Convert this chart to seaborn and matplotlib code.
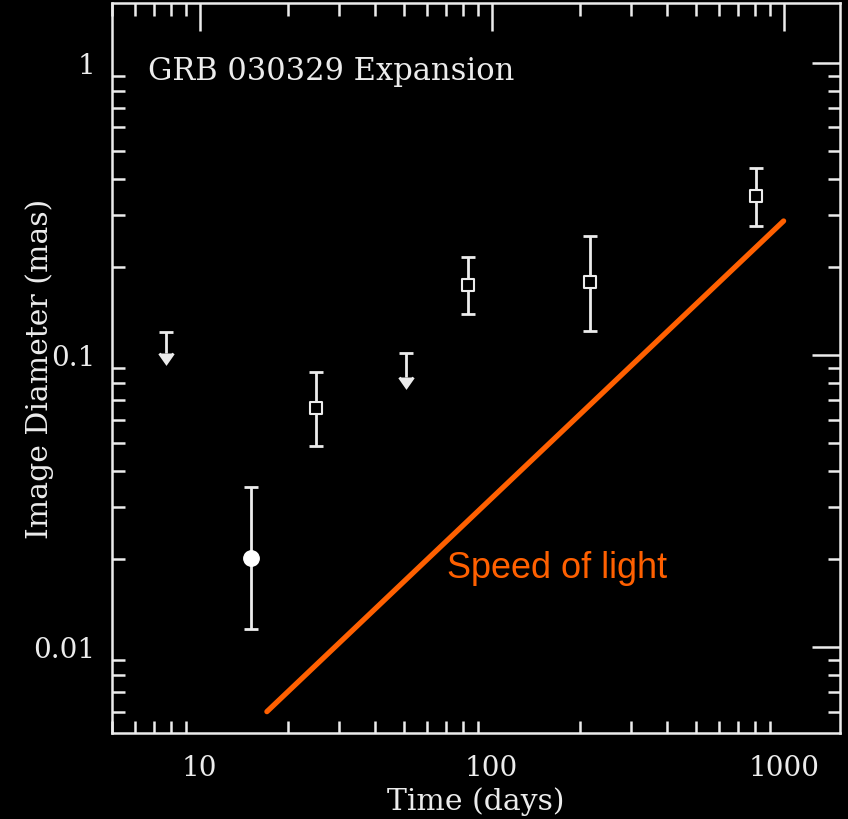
import matplotlib
matplotlib.use("Agg")
import matplotlib.pyplot as plt
import seaborn as sns
import pandas as pd
import numpy as np

# Measured image diameters (days since burst, mas, asymmetric errors)
meas_days = [15.0, 25.0, 83.0, 217.0, 806.0]
meas_size = [0.0201, 0.0656, 0.173, 0.177, 0.350]
meas_lo = [0.0115, 0.0486, 0.138, 0.121, 0.276]
meas_hi = [0.0352, 0.0871, 0.216, 0.255, 0.437]
meas_kind = ["model", "fit", "fit", "fit", "fit"]

# Upper limits (limit value and where the arrow shaft ends)
lim_days = [7.7, 51.0]
lim_size = [0.120, 0.101]
lim_tip = [0.101, 0.084]

# Apparent expansion at the speed of light
light_days = [17.0, 1000.0]
light_size = [0.006, 0.287]

x_ticks = [10, 100, 1000]
x_ticklabels = ["10", "100", "1000"]
y_ticks = [0.01, 0.1, 1]
y_ticklabels = ["0.01", "0.1", "1"]

sns.set_theme(style="dark")
fg = "#ececec"
plt.rcParams.update({
    "font.family": ["DejaVu Serif"],
    "figure.facecolor": "black",
    "axes.facecolor": "black",
    "axes.edgecolor": fg,
    "axes.linewidth": 1.8,
    "text.color": fg,
    "axes.labelcolor": fg,
    "xtick.color": fg,
    "ytick.color": fg,
})

fig = plt.figure(figsize=(8.48, 8.20), dpi=100)
ax = fig.add_axes([111.7 / 848, 86 / 820, (840 - 111.7) / 848, 730 / 820])
ax.set_xscale("log")
ax.set_yscale("log")

meas = pd.DataFrame({"days": meas_days, "size": meas_size,
                     "lo": meas_lo, "hi": meas_hi, "kind": meas_kind})
yerr = np.vstack([meas["size"] - meas["lo"], meas["hi"] - meas["size"]])
ax.errorbar(meas["days"], meas["size"], yerr=yerr, fmt="none",
            ecolor=fg, elinewidth=2.0, capsize=5, capthick=2.0, zorder=3)

fits = meas[meas["kind"] == "fit"]
models = meas[meas["kind"] == "model"]
sns.scatterplot(data=fits, x="days", y="size", marker="s", s=75,
                facecolor="black", edgecolor=fg, linewidth=1.5, ax=ax, zorder=4)
sns.scatterplot(data=models, x="days", y="size", marker="o", s=125,
                color="white", edgecolor="white", ax=ax, zorder=4)

# Upper limits: bar at the limit, arrow pointing down
lims = pd.DataFrame({"days": lim_days, "size": lim_size, "tip": lim_tip})
_, lim_caps, _ = ax.errorbar(lims["days"], lims["size"],
                             yerr=[lims["size"] - lims["tip"], np.zeros(len(lims))],
                             uplims=True, fmt="none", ecolor=fg, elinewidth=2.0,
                             capsize=5, capthick=2.0, zorder=3)
for cap in lim_caps:
    cap.set_markerfacecolor(fg)
    cap.set_markeredgecolor(fg)
    if cap.get_marker() != "_":
        cap.set_markersize(10)

light = pd.DataFrame({"days": light_days, "size": light_size})
sns.lineplot(data=light, x="days", y="size", color="#ff6000", linewidth=3.8,
             ax=ax, zorder=2)
ax.text(167, 0.0187, "Speed of light", color="#ff6000", fontsize=26,
        family=["Liberation Sans", "DejaVu Sans"], ha="center", va="center")

ax.text(0.05, 0.907, "GRB 030329 Expansion", transform=ax.transAxes,
        fontsize=22, color=fg, ha="left", va="center")

ax.set_xlim(5.0, 1560)
ax.set_ylim(0.00507, 1.6)
ax.set_xticks(x_ticks)
ax.set_xticklabels(x_ticklabels)
ax.set_yticks(y_ticks)
ax.set_yticklabels(y_ticklabels)
ax.tick_params(which="major", direction="in", length=20, width=1.8,
               top=True, right=True, labelsize=20)
ax.tick_params(axis="x", which="major", pad=15)
ax.tick_params(axis="y", which="major", pad=12)
ax.tick_params(which="minor", direction="in", length=9, width=1.8,
               top=True, right=True, left=True, bottom=True)
ax.set_xlabel("Time (days)", fontsize=21.5)
ax.set_ylabel("Image Diameter (mas)", fontsize=21.5)
ax.xaxis.set_label_coords(0.5, (734 - 802) / 730)
ax.xaxis.label.set_va("center")
ax.yaxis.set_label_coords((40 - 111.7) / 728.3, 0.5)
ax.yaxis.label.set_va("center")
ax.grid(False)
for s in ax.spines.values():
    s.set_visible(True)
    s.set_color(fg)

fig.savefig("out.png", dpi=100, facecolor="black")
